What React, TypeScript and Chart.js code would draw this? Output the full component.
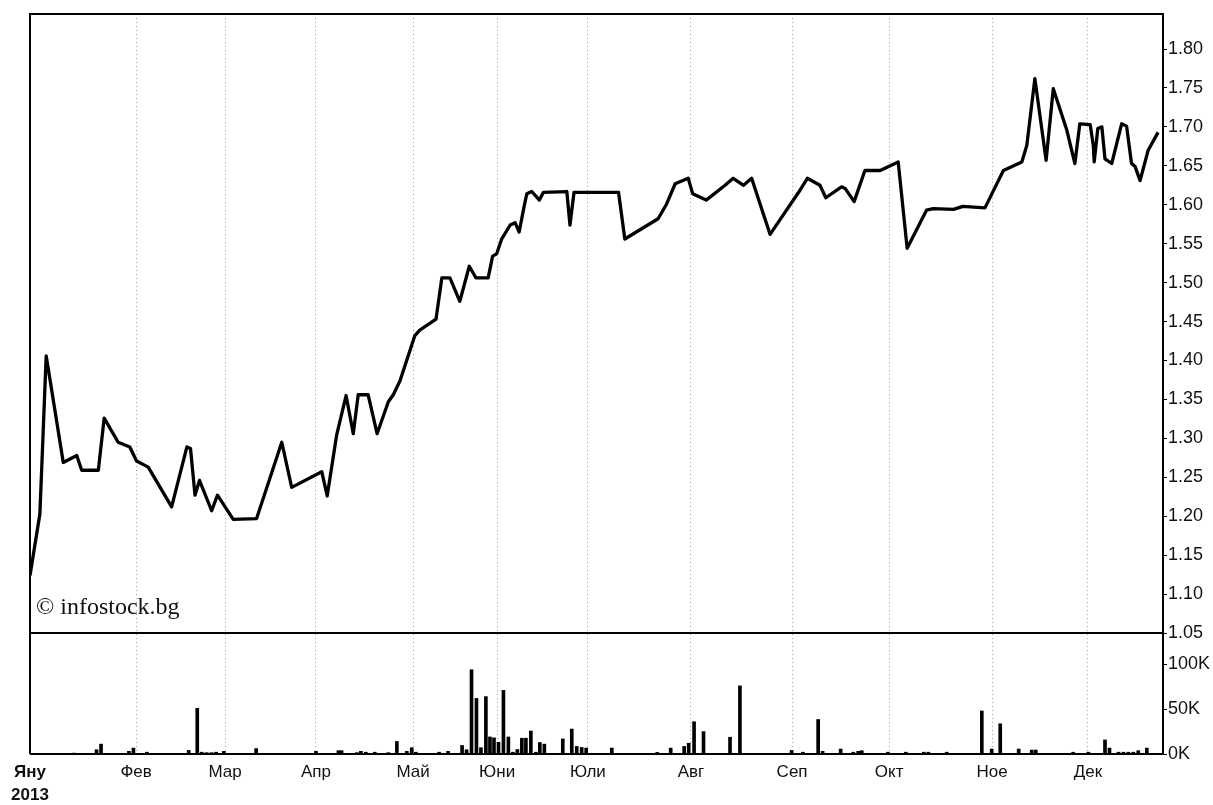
import React, { useEffect, useRef } from "react";
import { Chart, registerables } from "chart.js";

Chart.register(...registerables);

// ---- Data (x = trading-day index within 2013) ----
const monthLabels = ["Яну", "Фев", "Мар", "Апр", "Май", "Юни", "Юли", "Авг", "Сеп", "Окт", "Ное", "Дек"];
const yearLabel = "2013";
const monthStarts = [0, 23.6, 43.4, 63.6, 85.2, 103.9, 124.1, 147.0, 169.5, 191.1, 214.0, 235.3];
const dayCount = 252;

const priceTicks = [1.05, 1.1, 1.15, 1.2, 1.25, 1.3, 1.35, 1.4, 1.45, 1.5, 1.55, 1.6, 1.65, 1.7, 1.75, 1.8];
const volumeTicks = [0, 50, 100]; // thousands

const priceDays = [
  0, 2.2, 3.6, 7.4, 10.4, 11.5, 15.2, 16.5, 19.6, 22.2, 23.7, 26.3, 31.5, 34.9, 35.7,
  36.7, 37.7, 40.4, 41.7, 45.2, 50.4, 56.0, 58.2, 64.9, 66.1, 68.2, 70.3, 71.9, 73.0, 75.2,
  77.2, 79.7, 80.8, 82.3, 85.6, 86.7, 90.3, 91.6, 93.4, 95.6, 97.7, 99.2, 101.9, 102.9, 103.8,
  104.9, 106.8, 107.9, 108.8, 109.9, 110.5, 111.6, 113.3, 114.2, 119.4, 120.1, 121.0, 130.9, 132.3, 139.7,
  141.6, 143.5, 146.4, 147.4, 150.4, 154.6, 156.4, 158.7, 160.5, 164.6, 171.3, 172.9, 175.7, 177.0, 180.5,
  181.3, 183.3, 185.7, 189.1, 193.1, 195.1, 199.4, 200.9, 205.4, 207.5, 212.4, 216.5, 220.6, 221.7, 223.5,
  226.0, 227.6, 230.6, 232.4, 233.5, 235.8, 236.5, 236.7, 237.5, 238.4, 239.1, 240.6, 242.8, 243.9, 245.0,
  245.8, 246.9, 248.7, 250.9,
];
const priceValues = [
  1.124, 1.203, 1.406, 1.269, 1.278, 1.259, 1.259, 1.326, 1.295, 1.289, 1.271, 1.263, 1.212, 1.289, 1.287,
  1.227, 1.246, 1.207, 1.227, 1.196, 1.197, 1.295, 1.237, 1.257, 1.226, 1.304, 1.355, 1.306, 1.356, 1.356,
  1.306, 1.347, 1.356, 1.374, 1.432, 1.439, 1.453, 1.506, 1.506, 1.476, 1.521, 1.506, 1.506, 1.534, 1.537,
  1.556, 1.574, 1.577, 1.565, 1.598, 1.614, 1.617, 1.606, 1.616, 1.617, 1.574, 1.616, 1.616, 1.556, 1.582,
  1.601, 1.627, 1.634, 1.614, 1.606, 1.625, 1.634, 1.625, 1.634, 1.562, 1.619, 1.634, 1.625, 1.609, 1.623,
  1.621, 1.604, 1.644, 1.644, 1.655, 1.544, 1.593, 1.595, 1.594, 1.598, 1.596, 1.644, 1.655, 1.676, 1.762,
  1.657, 1.749, 1.696, 1.653, 1.704, 1.703, 1.676, 1.655, 1.698, 1.700, 1.659, 1.653, 1.704, 1.701, 1.653,
  1.649, 1.631, 1.670, 1.693,
];

const volumeDays = [
  9.8, 14.8, 15.8, 22.0, 23.0, 26.0, 35.3, 37.2, 38.2, 39.3, 40.4, 41.4, 43.1, 50.3, 63.6,
  68.6, 69.3, 72.7, 73.6, 74.7, 76.7, 79.7, 81.6, 83.8, 84.9, 85.8, 91.0, 93.0, 96.1, 97.1,
  98.2, 99.3, 100.3, 101.4, 102.3, 103.2, 104.2, 105.3, 106.4, 107.4, 108.4, 109.4, 110.3, 111.4, 112.5,
  113.4, 114.4, 118.5, 120.5, 121.6, 122.7, 123.7, 129.4, 139.5, 142.5, 145.5, 146.5, 147.7, 149.8, 155.7,
  157.9, 169.4, 171.9, 175.3, 176.3, 180.3, 183.1, 184.2, 185.0, 190.8, 194.8, 198.8, 199.8, 203.9, 211.7,
  213.9, 215.8, 219.9, 222.8, 223.7, 232.0, 235.4, 239.1, 240.1, 242.1, 243.2, 244.3, 245.4, 246.5, 248.4,
];
const volumeValues = [
  1, 4.7, 11, 3, 6.6, 2, 4, 51, 2, 1.5, 1.5, 2, 3, 6, 3,
  3.7, 3.7, 1.5, 3, 2, 2, 1.5, 14, 3, 7, 2, 2, 3, 9.5, 4.7,
  94, 62, 7, 64, 19, 18, 13, 71, 19, 2, 5, 17.6, 17.6, 25.6, 2,
  12.8, 11, 16.8, 27.8, 8.4, 7.3, 6.6, 6.6, 1.8, 6.6, 8.4, 12, 36, 25, 18.7,
  76, 4, 2, 38.5, 3, 5.5, 2, 3, 3.7, 2, 2, 2, 2, 2, 48,
  5.5, 33.7, 5.5, 4.4, 4.4, 2, 2, 15.7, 6.6, 2, 2, 2, 2, 3.7, 6.6,
];

const watermark = "© infostock.bg";
const FONT = "'Liberation Sans', Arial, sans-serif";

const framePlugin = {
  id: "frame",
  afterDatasetsDraw(chart: any) {
    const { ctx, chartArea: a, scales } = chart;
    const sepY = scales.yPrice.bottom;
    ctx.save();
    ctx.strokeStyle = "#000";
    ctx.lineWidth = 2;
    ctx.beginPath();
    ctx.moveTo(a.left, a.bottom);
    ctx.lineTo(a.left, a.top);
    ctx.lineTo(a.right, a.top);
    ctx.moveTo(a.left, sepY);
    ctx.lineTo(a.right, sepY);
    ctx.moveTo(a.left, a.bottom);
    ctx.lineTo(a.right, a.bottom);
    ctx.stroke();
    ctx.font = "24px 'Liberation Serif', 'DejaVu Serif', serif";
    ctx.fillStyle = "#111";
    ctx.textBaseline = "alphabetic";
    ctx.textAlign = "left";
    ctx.fillText(watermark, a.left + 6, sepY - 19);
    ctx.restore();
  },
};

export default function App() {
  const ref = useRef<HTMLCanvasElement | null>(null);

  useEffect(() => {
    if (!ref.current) return;
    const chart = new Chart(ref.current, {
      type: "line",
      data: {
        datasets: [
          {
            type: "line",
            data: priceDays.map((d, i) => ({ x: d, y: priceValues[i] })),
            yAxisID: "yPrice",
            borderColor: "#000",
            borderWidth: 3.3,
            pointRadius: 0,
            tension: 0,
            borderJoinStyle: "round",
            order: 0,
          } as any,
          {
            type: "bar",
            data: volumeDays.map((d, i) => ({ x: d, y: volumeValues[i] })),
            yAxisID: "yVol",
            backgroundColor: "#000",
            barThickness: 3,
            order: 1,
          } as any,
        ],
      },
      options: {
        animation: false,
        responsive: false,
        devicePixelRatio: 1,
        layout: { padding: { left: 30, top: 14, right: 0, bottom: 0 } },
        plugins: { legend: { display: false }, tooltip: { enabled: false } },
        scales: {
          x: {
            type: "linear",
            min: 0,
            max: dayCount,
            offset: false,
            position: "bottom",
            afterBuildTicks: (s: any) => {
              s.ticks = monthStarts.map((v) => ({ value: v }));
            },
            afterFit: (s: any) => {
              s.height = 51;
            },
            ticks: {
              autoSkip: false,
              maxRotation: 0,
              padding: 6,
              color: "#111",
              font: (c: any) =>
                c.index === 0
                  ? { family: FONT, size: 17, weight: "bold", lineHeight: 1.4 }
                  : { family: FONT, size: 17, lineHeight: 1.4 },
              callback: (_v: any, i: number) => (i === 0 ? [monthLabels[0], yearLabel] : monthLabels[i]),
            },
            grid: { color: "#a0a0a0", lineWidth: 1, drawTicks: false, offset: false },
            border: { display: false, dash: [1, 3] },
          },
          yPrice: {
            type: "linear",
            position: "right",
            stack: "main",
            stackWeight: 619,
            min: 1.05,
            max: 1.845,
            afterBuildTicks: (s: any) => {
              s.ticks = priceTicks.map((v) => ({ value: v }));
            },
            afterFit: (s: any) => {
              s.width = 50;
            },
            ticks: {
              autoSkip: false,
              color: "#111",
              padding: 1,
              font: { family: FONT, size: 18 },
              callback: (v: any) => Number(v).toFixed(2),
            },
            grid: { drawOnChartArea: false, drawTicks: true, tickLength: 4, color: "#000" },
            border: { display: true, color: "#000", width: 2 },
          },
          yVol: {
            type: "linear",
            position: "right",
            stack: "main",
            stackWeight: 121,
            min: 0,
            max: 135,
            afterBuildTicks: (s: any) => {
              s.ticks = volumeTicks.map((v) => ({ value: v }));
            },
            afterFit: (s: any) => {
              s.width = 50;
            },
            ticks: {
              autoSkip: false,
              color: "#111",
              padding: 1,
              font: { family: FONT, size: 18 },
              callback: (v: any) => `${v}K`,
            },
            grid: { drawOnChartArea: false, drawTicks: true, tickLength: 4, color: "#000" },
            border: { display: true, color: "#000", width: 2 },
          },
        },
      } as any,
      plugins: [framePlugin],
    });
    return () => chart.destroy();
  }, []);

  return (
    <div style={{ position: "fixed", left: 0, top: 0, width: 1213, height: 805, background: "#fff" }}>
      <canvas ref={ref} width={1213} height={805} />
    </div>
  );
}
